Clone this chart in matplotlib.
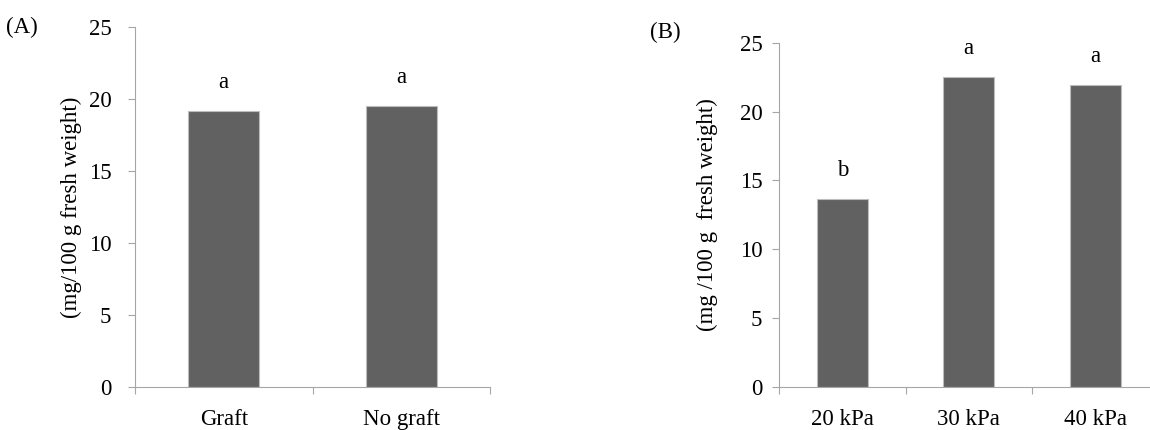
import matplotlib

matplotlib.use("Agg")

import matplotlib.pyplot as plt
import numpy as np

plt.rcParams["font.family"] = ["Liberation Serif", "DejaVu Serif"]

# (A) grafting
graft_labels = ["Graft", "No graft"]
graft_values = [19.2, 19.5]
graft_letters = ["a", "a"]

# (B) pressure
kpa_labels = ["20 kPa", "30 kPa", "40 kPa"]
kpa_values = [13.65, 22.5, 21.9]
kpa_letters = ["b", "a", "a"]

y_ticks = [0, 5, 10, 15, 20, 25]

BAR = "#616161"
AXIS = "#a6a6a6"
FS = 16.5

fig = plt.figure(figsize=(11.5, 4.3), dpi=100)


def panel(rect, labels, values, letters, ylabel, tag, tag_xy, label_x, ypad):
    ax = fig.add_axes(rect)
    x = np.arange(len(values))
    ax.bar(x, values, width=0.4, color=BAR, edgecolor="#bdbdbd", linewidth=0.8, zorder=2)
    # significance letters above each bar
    for xi, v, t in zip(x, values, letters):
        ax.annotate(t, (xi, v), xytext=(0, 16.5), textcoords="offset points",
                    ha="center", va="baseline", fontsize=FS)
    ax.set_xlim(-0.5, len(values) - 0.5)
    ax.set_ylim(0, 25)
    ax.set_yticks(y_ticks)
    ax.tick_params(axis="y", length=5, width=0.8, color=AXIS, labelsize=FS, pad=ypad)
    ax.set_xticks(x)
    ax.set_xticklabels(labels)
    # category dividers on the x axis
    ax.set_xticks(np.arange(len(values) + 1) - 0.5, minor=True)
    ax.tick_params(axis="x", which="major", length=0, labelsize=FS, pad=16)
    ax.tick_params(axis="x", which="minor", length=5, width=0.8, color=AXIS)
    for s in ("top", "right"):
        ax.spines[s].set_visible(False)
    for s in ("left", "bottom"):
        ax.spines[s].set_color(AXIS)
        ax.spines[s].set_linewidth(0.8)
    ax.set_ylabel(ylabel, fontsize=FS)
    ax.yaxis.set_label_coords(label_x, 0.5)
    fig.text(tag_xy[0], tag_xy[1], tag, fontsize=FS, ha="left", va="center")
    return ax


panel([0.1174, 0.1, 0.3087, 0.8372], graft_labels, graft_values, graft_letters,
      "(mg/100 g fresh weight)", "(A)", (0.005, 0.937), -0.148, 12)
panel([0.6774, 0.1, 0.33, 0.8007], kpa_labels, kpa_values, kpa_letters,
      "(mg /100 g  fresh weight)", "(B)", (0.565, 0.925), -0.16, 7)

fig.savefig("out.png", dpi=100)
